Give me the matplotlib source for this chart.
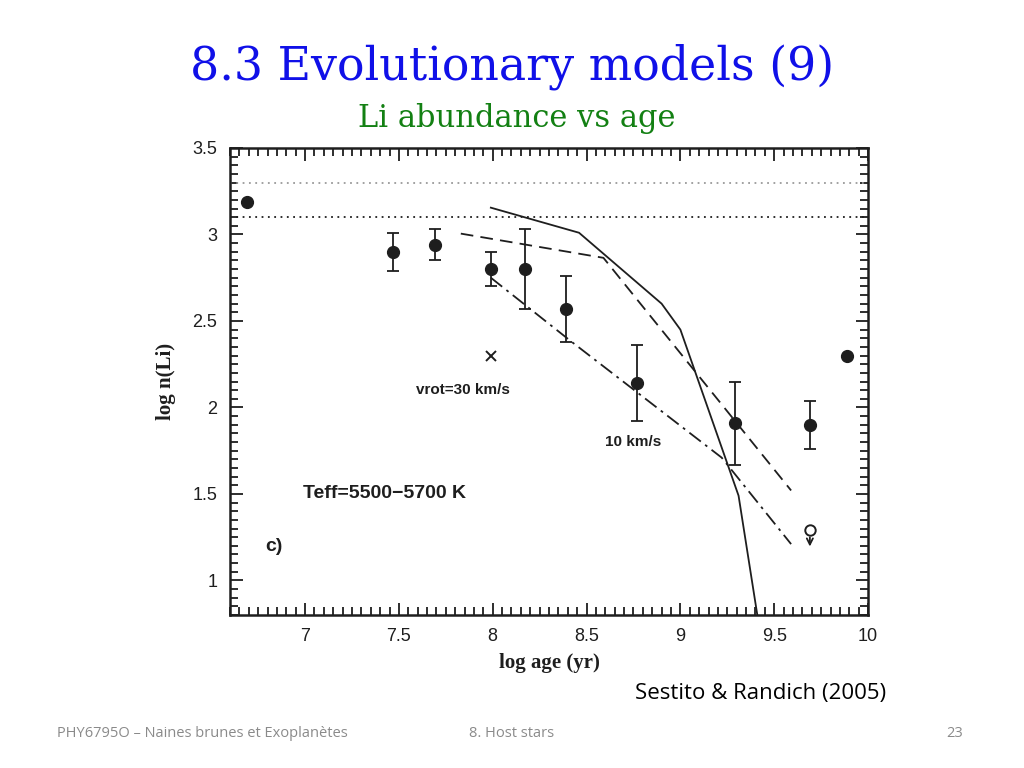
#!/usr/bin/env python3
"""
Slide: Li abundance vs age (Sestito & Randich 2005), panel c)
"""

import numpy as np
import matplotlib
matplotlib.use('Agg')
import matplotlib.pyplot as plt
from matplotlib.ticker import MultipleLocator

# Cluster data: log age, log n(Li), error
age = [6.69, 7.47, 7.69, 7.99, 8.17, 8.39, 8.77, 9.29, 9.69, 9.89]
li = [3.19, 2.90, 2.94, 2.80, 2.80, 2.57, 2.14, 1.91, 1.90, 2.30]
li_err = [0.0, 0.11, 0.09, 0.10, 0.23, 0.19, 0.22, 0.24, 0.14, 0.0]

# upper limit (open circle with arrow)
lim_age = [9.69]
lim_li = [1.29]

# single "x" point
cross_age = [7.99]
cross_li = [2.30]

# horizontal reference levels
meteoritic = 3.30
initial = 3.10

# models
std_age = [7.99, 8.46, 8.90, 9.00, 9.31, 9.41]
std_li = [3.155, 3.01, 2.60, 2.45, 1.49, 0.80]

rot30_age = [7.83, 8.59, 9.59]
rot30_li = [3.005, 2.865, 1.52]

rot10_age = [7.99, 8.42, 9.22, 9.59]
rot10_li = [2.75, 2.38, 1.71, 1.21]

INK = '#1e1e1e'


def main():
    fig = plt.figure(figsize=(10.24, 7.68), dpi=100)
    fig.patch.set_facecolor('white')

    # slide text
    fig.text(0.5, 0.913, '8.3 Evolutionary models (9)', ha='center', va='center',
             fontsize=33, color='#1010e8', family='DejaVu Serif')
    fig.text(0.505, 0.846, 'Li abundance vs age', ha='center', va='center',
             fontsize=22, color='#138013', family='DejaVu Serif')
    fig.text(0.8655, 0.097, 'Sestito & Randich (2005)', ha='right', va='center',
             fontsize=16, color='black', family='Open Sans')
    fig.text(0.056, 0.045, 'PHY6795O – Naines brunes et Exoplanètes', ha='left',
             va='center', fontsize=10.5, color='#8a8a8a', family='Open Sans')
    fig.text(0.5, 0.045, '8. Host stars', ha='center', va='center',
             fontsize=10.5, color='#8a8a8a', family='Open Sans')
    fig.text(0.94, 0.045, '23', ha='right', va='center',
             fontsize=10.5, color='#8a8a8a', family='Open Sans')

    ax = fig.add_axes([0.2246, 0.1992, 0.6231, 0.6081])
    ax.set_xlim(6.6, 10.0)
    ax.set_ylim(0.8, 3.5)

    # reference levels
    ax.axhline(meteoritic, color='#9a9a9a', lw=1.3, ls=(0, (1, 2.5)))
    ax.axhline(initial, color=INK, lw=1.3, ls=(0, (1, 2.5)))

    # models
    ax.plot(std_age, std_li, color=INK, lw=1.3, ls='-')
    ax.plot(rot30_age, rot30_li, color=INK, lw=1.3, ls=(0, (7, 4)))
    ax.plot(rot10_age, rot10_li, color=INK, lw=1.3, ls=(0, (8, 3, 1.5, 3)))

    # data
    err = np.array(li_err)
    ax.errorbar(age, li, yerr=np.where(err > 0, err, np.nan), fmt='o', color=INK,
                ms=8.5, ecolor=INK, elinewidth=1.3, capsize=4.5, capthick=1.3)
    ax.plot(lim_age, lim_li, 'o', mfc='white', mec=INK, mew=1.4, ms=7.5)
    ax.annotate('', xy=(lim_age[0], lim_li[0] - 0.11), xytext=(lim_age[0], lim_li[0] - 0.025),
                arrowprops=dict(arrowstyle='->', color=INK, lw=1.3, mutation_scale=11))
    ax.plot(cross_age, cross_li, 'x', color=INK, ms=7, mew=1.4)

    # labels inside
    lab = dict(color=INK, family='Liberation Sans', fontweight='bold')
    ax.text(7.59, 2.10, 'vrot=30 km/s', fontsize=11, va='center', **lab)
    ax.text(8.60, 1.80, '10 km/s', fontsize=11, va='center', **lab)
    ax.text(6.99, 1.50, 'Teff=5500\u22125700 K', fontsize=14, va='center', **lab)
    ax.text(6.79, 1.195, 'c)', fontsize=14, va='center', **lab)

    ax.set_xlabel('log age (yr)', fontsize=15, family='Liberation Serif',
                  fontweight='bold', color=INK, labelpad=6)
    ax.set_ylabel('log n(Li)', fontsize=15, family='Liberation Serif',
                  fontweight='bold', color=INK, labelpad=12)

    ax.xaxis.set_minor_locator(MultipleLocator(0.05))
    ax.yaxis.set_minor_locator(MultipleLocator(0.05))
    ax.set_xticks([7, 7.5, 8, 8.5, 9, 9.5, 10])
    ax.set_xticklabels(['7', '7.5', '8', '8.5', '9', '9.5', '10'])
    ax.set_yticks([1, 1.5, 2, 2.5, 3, 3.5])
    ax.set_yticklabels(['1', '1.5', '2', '2.5', '3', '3.5'])

    ax.tick_params(which='both', direction='in', top=True, right=True,
                   color=INK, width=1.3)
    ax.tick_params(which='major', length=9, labelsize=13, pad=9, labelcolor=INK)
    ax.tick_params(which='minor', length=5.5)
    for lbl in ax.get_xticklabels() + ax.get_yticklabels():
        lbl.set_family('Liberation Sans')
    for s in ax.spines.values():
        s.set_linewidth(1.8)
        s.set_color(INK)

    fig.savefig('out.png', dpi=100, facecolor='white')
    plt.close(fig)


if __name__ == "__main__":
    main()
